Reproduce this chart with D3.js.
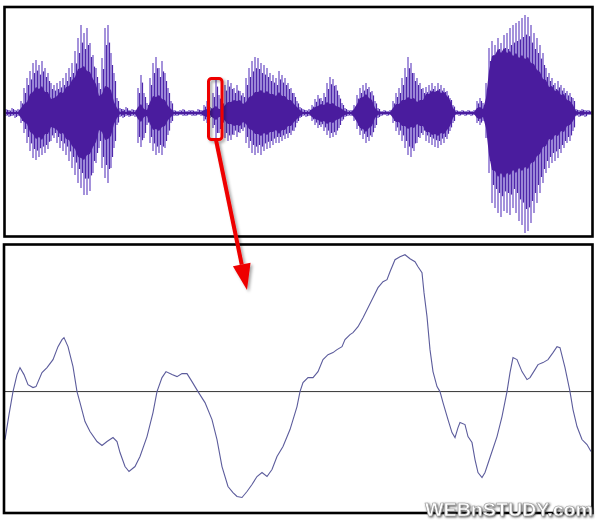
<!DOCTYPE html>
<html><head><meta charset="utf-8">
<script src="https://cdn.jsdelivr.net/npm/d3@7"></script>
<style>body{margin:0;background:#fff}svg{display:block}</style>
</head><body><svg id="c" width="600" height="521"></svg>
<script>
// ---- Top waveform envelope (one column per sample block) ----
const spikeUp = [4,3,5,3,4,
 12,25,35,42,50,53,48,52,45,40,30,28,
 30,32,35,40,45,50,62,75,88,80,85,70,58,45,30,
 55,85,88,60,40,15,
 5,4,6,3,4,3,
 25,38,20,10,
 35,50,56,45,52,40,25,12,
 3,2,3,4,2,3,3,2,4,3,
 8,12,6,20,33,18,12,
 28,33,30,25,28,22,20,
 35,45,52,56,55,50,48,45,40,38,35,42,38,35,30,25,20,12,6,
 4,3,4,
 8,14,18,15,20,30,36,34,28,18,10,5,
 3,3,
 8,18,25,28,30,26,22,12,5,
 2,3,2,3,
 12,20,25,35,45,56,50,40,35,30,25,
 26,28,30,27,30,28,25,22,15,8,
 3,2,3,2,3,2,3,
 12,15,10,
 30,65,72,68,75,70,78,80,85,88,90,92,95,98,96,88,80,75,68,60,45,40,35,30,32,28,25,22,20,15,
 4,3,4,3,3,2];
const spikeDown = [3,4,3,5,3,
 10,20,30,38,45,47,44,42,40,36,28,25,
 30,35,38,42,48,55,62,70,75,82,82,78,60,50,35,
 55,65,70,55,35,12,
 4,5,3,4,3,4,
 30,34,25,12,
 30,38,42,40,42,35,22,10,
 3,3,2,3,3,2,3,3,2,3,
 8,10,5,15,25,20,12,
 25,28,27,22,24,20,18,
 30,35,40,42,40,42,38,36,35,32,30,30,28,26,25,22,18,10,5,
 3,4,3,
 8,12,15,14,18,22,25,24,22,15,8,4,
 3,3,
 8,16,22,26,30,28,24,15,5,
 3,2,3,2,
 10,18,22,28,35,42,44,38,30,25,22,
 28,30,32,34,35,32,30,26,18,10,
 2,3,2,3,2,3,2,
 10,12,8,
 25,60,90,95,100,104,98,100,102,95,100,108,112,120,118,110,100,90,80,70,60,55,50,48,45,40,35,30,28,18,
 3,4,3,4,2,2];
const coreAmp = [1,1,1,1,1,
 5,9,11,19,21,26,24,27,21,21,14,15,
 17,21,20,26,27,33,36,44,45,47,42,41,34,29,17,
 19,27,26,23,11,5,
 1,2,1,2,1,1,
 6,9,4,3,
 11,17,16,18,14,13,7,4,
 1,1,1,1,1,1,1,1,1,1,
 3,4,2,5,7,4,4,
 8,11,11,13,12,13,9,
 11,16,17,21,21,23,20,22,19,19,17,21,17,17,13,13,9,6,3,
 1,1,1,
 4,6,7,9,8,11,9,10,7,6,4,2,
 1,1,
 4,9,15,16,19,15,13,5,2,
 1,1,1,1,
 5,9,9,13,13,16,14,15,11,13,13,
 19,19,22,21,23,20,21,17,13,5,
 1,1,1,1,1,1,1,
 5,6,4,
 15,42,57,58,64,60,65,60,62,57,60,55,58,54,56,50,49,43,41,34,33,26,27,22,23,18,19,13,12,8,
 2,1,2,1,1,1];

// ---- Bottom (zoomed) segment: sample time and value ----
const zoomTimes = [0,4,8,12,15,19,23,28,31,37,42,48,53,57,59,63,68,72,75,80,85,92,97,102,108,112,115,120,124,130,135,142,148,152,157,161,167,172,177,182,187,193,200,207,212,217,223,228,232,237,242,247,252,257,262,267,272,278,285,292,295,
 298,303,308,313,318,323,328,332,337,340,345,348,353,358,363,368,373,378,382,385,390,395,400,405,410,413,417,419,422,425,428,432,435,438,443,447,450,453,455,460,463,467,470,473,477,480,485,492,497,502,505,508,512,517,522,525,530,533,538,543,548,552,555,560,565,568,572,577,582,586];
const zoomValues = [-48,-23,0,17,24,17,7,4,5,19,24,32,45,52,54,45,25,0,-11,-30,-40,-50,-54,-50,-46,-50,-61,-75,-80,-75,-65,-45,-21,0,14,20,17,15,18,18,10,0,-11,-28,-48,-75,-95,-101,-105,-106,-100,-93,-85,-81,-85,-78,-65,-55,-38,-15,0,
 9,14,14,20,32,37,39,42,45,52,57,59,65,74,84,94,104,110,112,120,132,135,137,133,130,125,119,99,75,42,20,5,0,-11,-28,-41,-46,-36,-31,-33,-45,-51,-68,-81,-86,-81,-66,-45,-25,0,19,34,32,20,12,14,22,27,29,32,39,45,44,24,0,-18,-35,-48,-53,-60];

const watermark = "WEBnSTUDY.com";

const svg = d3.select("#c");
const defs = svg.append("defs");
const sh = defs.append("filter").attr("id","sh").attr("x","-50%").attr("y","-50%").attr("width","200%").attr("height","200%");
sh.append("feDropShadow").attr("dx",2).attr("dy",2).attr("stdDeviation",1.5).attr("flood-color","#000").attr("flood-opacity",0.35);
const tsh = defs.append("filter").attr("id","tsh").attr("x","-10%").attr("y","-30%").attr("width","120%").attr("height","160%");
tsh.append("feDropShadow").attr("dx",1).attr("dy",1).attr("stdDeviation",0.8).attr("flood-color","#333").attr("flood-opacity",0.9);

// ---- Top panel ----
const xTop = d3.scaleLinear().domain([0, spikeUp.length-1]).range([6, 591]);
const yTop = d3.scaleLinear().domain([-123, 106]).range([236, 7]);

svg.append("line").attr("x1",6).attr("x2",591).attr("y1",yTop(0)).attr("y2",yTop(0))
  .attr("stroke","#4a1fa0").attr("stroke-width",1.2);

svg.append("g").selectAll("line").data(spikeUp).join("line")
  .attr("x1",(d,i)=>xTop(i)).attr("x2",(d,i)=>xTop(i))
  .attr("y1",(d)=>yTop(d)).attr("y2",(d,i)=>yTop(-spikeDown[i]))
  .attr("stroke","#7e64cc").attr("stroke-width",1.4);
svg.append("g").selectAll("line").data(spikeUp).join("line")
  .attr("x1",(d,i)=>xTop(i)+1.5).attr("x2",(d,i)=>xTop(i)+1.5)
  .attr("y1",(d,i)=>yTop(Math.max(coreAmp[i], d*0.8))).attr("y2",(d,i)=>yTop(-Math.max(coreAmp[i], spikeDown[i]*0.8)))
  .attr("stroke","#4e26aa").attr("stroke-width",1.2);

const core = d3.area().x((d,i)=>xTop(i)).y0((d)=>yTop(-d)).y1((d)=>yTop(d));
svg.append("path").datum(coreAmp).attr("d",core).attr("fill","#4a1c9e");

svg.append("rect").attr("x",4.5).attr("y",7).attr("width",588).attr("height",229.5)
  .attr("fill","none").attr("stroke","#000").attr("stroke-width",2.6);

// ---- Bottom panel ----
const xB = d3.scaleLinear().domain([0, 586]).range([5, 591]);
const yB = d3.scaleLinear().domain([-120, 137]).range([511.5, 254.7]);

svg.append("line").attr("x1",4).attr("x2",592).attr("y1",yB(0)).attr("y2",yB(0))
  .attr("stroke","#333").attr("stroke-width",1);
const ln = d3.line().x((d,i)=>xB(zoomTimes[i])).y(d=>yB(d)).curve(d3.curveLinear);
svg.append("path").datum(zoomValues).attr("d",ln).attr("fill","none")
  .attr("stroke","#5c5c9c").attr("stroke-width",1.1);

svg.append("rect").attr("x",4).attr("y",244.5).attr("width",588.5).attr("height",268.5)
  .attr("fill","none").attr("stroke","#000").attr("stroke-width",2.6);

// ---- Red callout ----
const call = svg.append("g").attr("filter","url(#sh)");
call.append("rect").attr("x",208.5).attr("y",78.5).attr("width",13.5).attr("height",61)
  .attr("rx",3).attr("fill","none").attr("stroke","#ee0000").attr("stroke-width",3);
const tip = [247, 290], start = [216, 140];
const dx = tip[0]-start[0], dy = tip[1]-start[1], L = Math.hypot(dx,dy);
const ux = dx/L, uy = dy/L, px = -uy, py = ux;
const hb = [tip[0]-ux*26, tip[1]-uy*26];
call.append("line").attr("x1",start[0]).attr("y1",start[1]).attr("x2",hb[0]).attr("y2",hb[1])
  .attr("stroke","#ee0000").attr("stroke-width",4);
call.append("path").attr("d",`M${tip[0]},${tip[1]}L${hb[0]+px*9},${hb[1]+py*9}L${hb[0]-px*9},${hb[1]-py*9}Z`)
  .attr("fill","#ee0000");

// ---- Watermark ----
svg.append("text").attr("x",425).attr("y",516).text(watermark)
  .attr("font-family","Liberation Sans, Arial, sans-serif").attr("font-weight","bold")
  .attr("font-size",17.5).attr("textLength",168).attr("lengthAdjust","spacingAndGlyphs")
  .attr("fill","#fff").attr("stroke","#9a9a9a").attr("stroke-width",0.6).attr("filter","url(#tsh)");
</script></body></html>
